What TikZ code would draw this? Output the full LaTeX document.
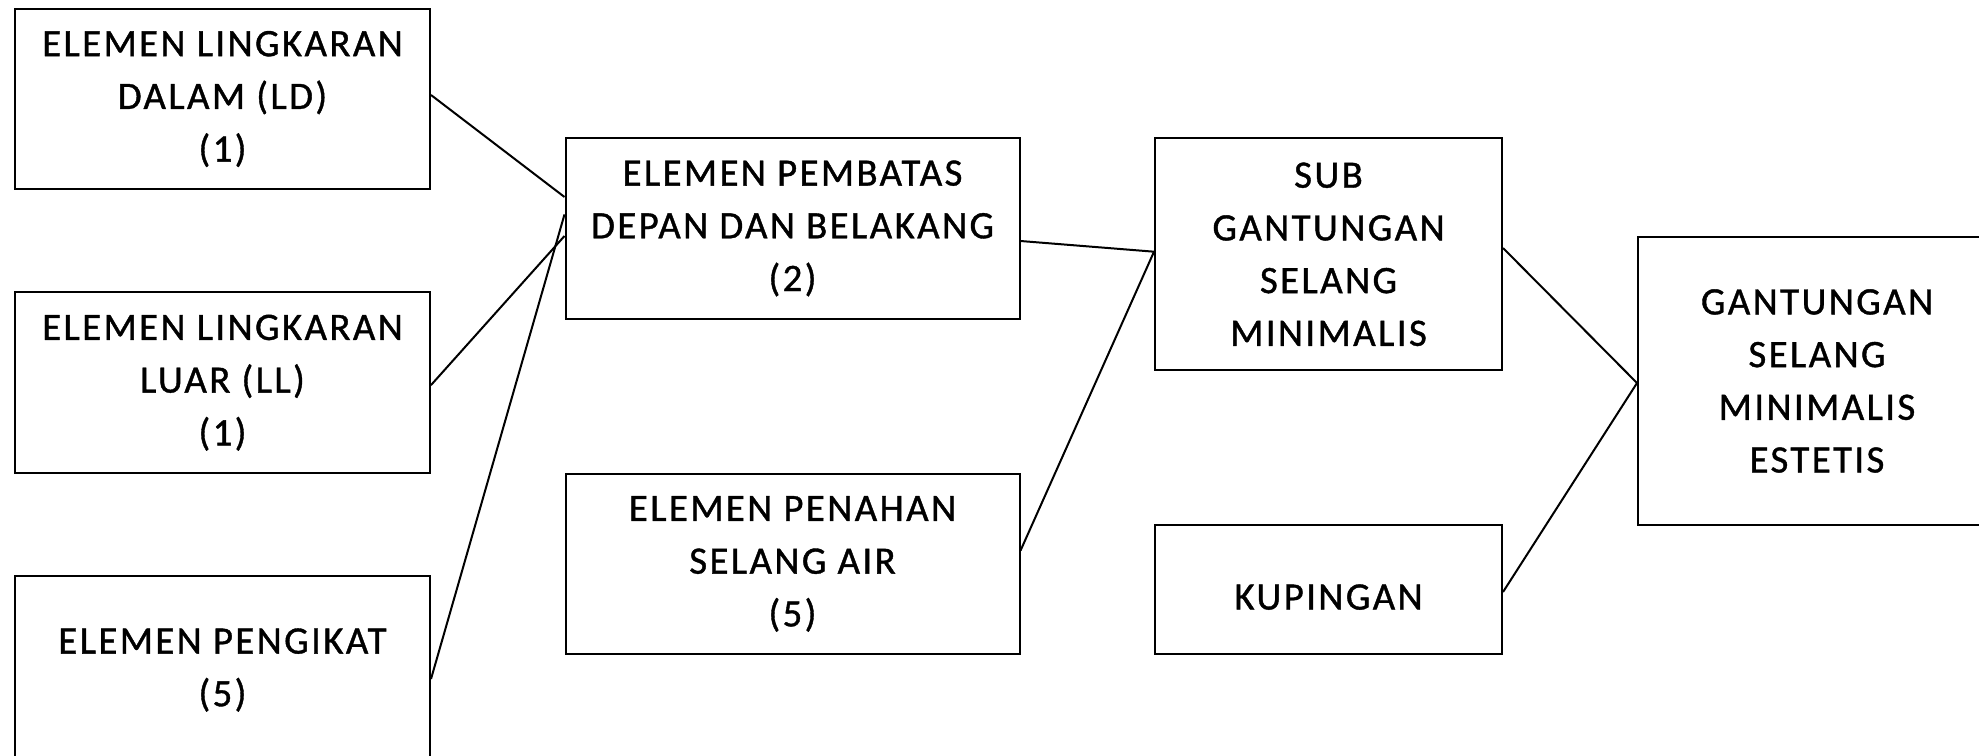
\documentclass[tikz,border=0pt]{standalone}
\usepackage{fontspec}
\setmainfont{Carlito}
\newfontfamily\boxfont{Carlito}[LetterSpace=6.2,FakeBold=1]
\begin{document}
\begin{tikzpicture}[x=0.5pt,y=-0.5pt]
\tikzset{
  box/.style={draw=black, line width=1pt, inner sep=0pt, align=center,
    font=\boxfont\fontsize{19.4pt}{26.35pt}\selectfont,
    execute at begin node={\rule{0pt}{1.03em}}},
  link/.style={draw=black, line width=1pt}
}
\clip (0,0) rectangle (1979,755);
\fill[white] (0,0) rectangle (1979,755);
% left column
\node[box, minimum width=207.5pt, minimum height=90.25pt] (A) at (222.5,99) {ELEMEN LINGKARAN\\DALAM (LD)\\(1)};
\node[box, minimum width=207.5pt, minimum height=90.5pt] (B) at (222.5,382.7) {ELEMEN LINGKARAN\\LUAR (LL)\\(1)};
\node[box, minimum width=207.5pt, minimum height=94pt] (C) at (222.5,670) {ELEMEN PENGIKAT\\(5)};
% middle column
\node[box, minimum width=227pt, minimum height=90.2pt] (D) at (792.5,228.4) {ELEMEN PEMBATAS\\DEPAN DAN BELAKANG\\(2)};
\node[box, minimum width=227pt, minimum height=90.2pt] (E) at (792.5,563.9) {ELEMEN PENAHAN\\SELANG AIR\\(5)};
% third column
\node[box, minimum width=173.5pt, minimum height=116.1pt] (F) at (1328.5,254.3) {SUB\\GANTUNGAN\\SELANG\\MINIMALIS};
\node[box, minimum width=173.5pt, minimum height=64.3pt] (H) at (1328.5,589.7) {KUPINGAN};
% final
\node[box, minimum width=179pt, minimum height=144pt] (G) at (1817,381) {GANTUNGAN\\SELANG\\MINIMALIS\\ESTETIS};
% connectors
\draw[link] ([yshift=2pt]A.east) -- ([yshift=15.7pt]D.west);
\draw[link] ([yshift=-1.2pt]B.east) -- ([yshift=-3.8pt]D.west);
\draw[link] ([yshift=-4.5pt]C.east) -- ([yshift=7pt]D.west);
\draw[link] ([yshift=-6.3pt]D.east) -- ([yshift=1.3pt]F.west);
\draw[link] ([yshift=6.65pt]E.east) -- ([yshift=1.3pt]F.west);
\draw[link] ([yshift=3.15pt]F.east) -- ([yshift=-1pt]G.west);
\draw[link] ([yshift=-1.15pt]H.east) -- ([yshift=-1pt]G.west);
\end{tikzpicture}
\end{document}
